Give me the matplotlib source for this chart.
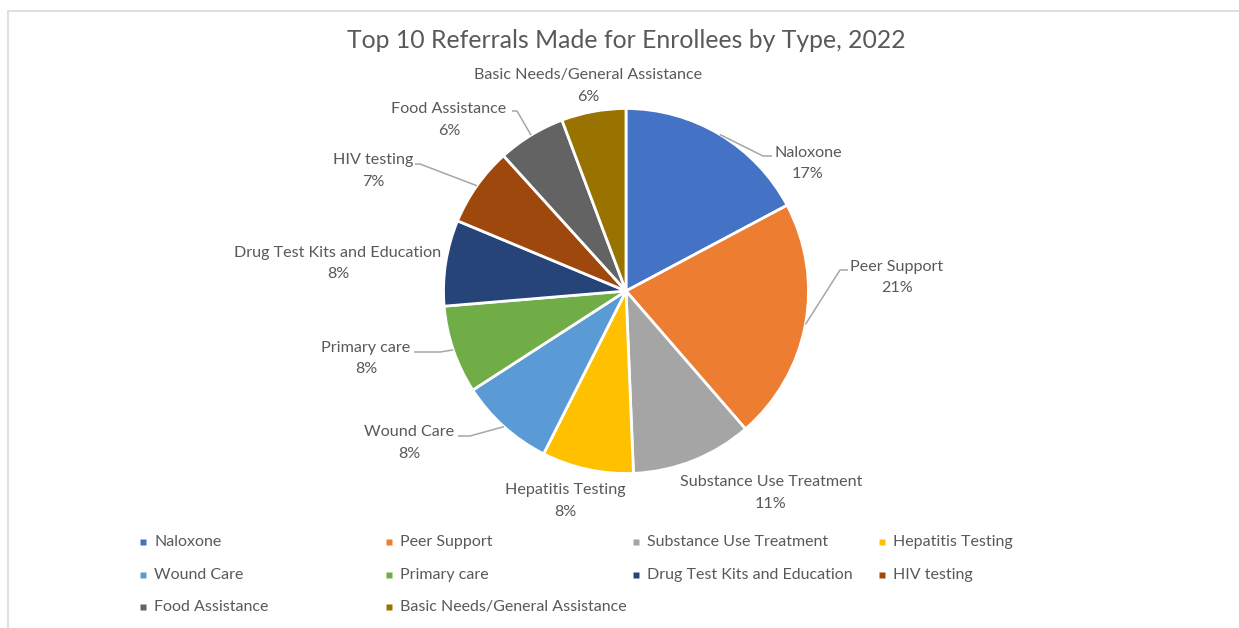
import numpy as np
import matplotlib.pyplot as plt
from matplotlib.patches import Rectangle

W, H = 1239, 628

categories = ['Naloxone', 'Peer Support', 'Substance Use Treatment', 'Hepatitis Testing',
              'Wound Care', 'Primary care', 'Drug Test Kits and Education', 'HIV testing',
              'Food Assistance', 'Basic Needs/General Assistance']
shares = [17.2, 21.4, 10.7, 8.1, 8.4, 7.8, 7.6, 7.0, 6.0, 5.7]
colors = ['#4472C4', '#ED7D31', '#A5A5A5', '#FFC000', '#5B9BD5',
          '#70AD47', '#264478', '#9E480E', '#636363', '#997300']

title = 'Top 10 Referrals Made for Enrollees by Type, 2022'

# layout, in pixels from top-left
cx, cy, radius = 626, 291, 182.5
label_pos = [(808, 163.5), (897, 277.5), (771, 493), (565, 501), (409, 443),
             (366, 358.5), (338, 263.5), (373, 171), (449, 120), (588, 86)]
# text side point and elbow of leader lines (None = no leader)
leaders = [((772, 156), (763, 156)), ((848, 270), (840, 270)), None, None,
           ((458, 436), (470, 436)), ((414, 352), (440, 352)), None,
           ((415, 164), (420, 164)), ((512, 111), (517, 111)), None]

txt = '#595959'
plt.rcParams['font.family'] = ['Lato', 'DejaVu Sans']

fig = plt.figure(figsize=(W / 100, H / 100), dpi=100)
ax = fig.add_axes([0, 0, 1, 1])


def Y(y):
    return H - y


wedges, _ = ax.pie(shares, colors=colors, startangle=90, counterclock=False,
                   center=(cx, Y(cy)), radius=radius,
                   wedgeprops=dict(edgecolor='white', linewidth=2))

ax.set_xlim(0, W)
ax.set_ylim(0, H)
ax.axis('off')

total = sum(shares)
for i, w in enumerate(wedges):
    pct = round(shares[i] / total * 100)
    lx, ly = label_pos[i]
    ax.text(lx, Y(ly), f'{categories[i]}\n{pct}%', ha='center', va='center',
            fontsize=11.6, color=txt, linespacing=1.65)
    if leaders[i] is not None:
        mid = np.deg2rad((w.theta1 + w.theta2) / 2)
        ex = cx + radius * np.cos(mid)
        ey = Y(cy) + radius * np.sin(mid)
        (tx, ty), (bx, by) = leaders[i]
        ax.plot([tx, bx, ex], [Y(ty), Y(by), ey], color='#A6A6A6', lw=1.1,
                solid_capstyle='butt')

ax.text(626, Y(40), title, ha='center', va='center', fontsize=17.8, color=txt)

# legend, Excel style grid
leg_x = [143, 389, 636, 882]
leg_y = [542, 575, 607]
for i, name in enumerate(categories):
    x = leg_x[i % 4]
    y = leg_y[i // 4]
    ax.plot(x, Y(y), marker='s', ms=5, color=colors[i], mec='none')
    ax.text(x + 11, Y(y), name, ha='left', va='center', fontsize=11.5, color=txt)

# chart area border
ax.add_patch(Rectangle((8, -5), W, Y(11) + 5, fill=False, edgecolor='#D9D9D9', lw=1.2))

fig.savefig('out.png', dpi=100)
